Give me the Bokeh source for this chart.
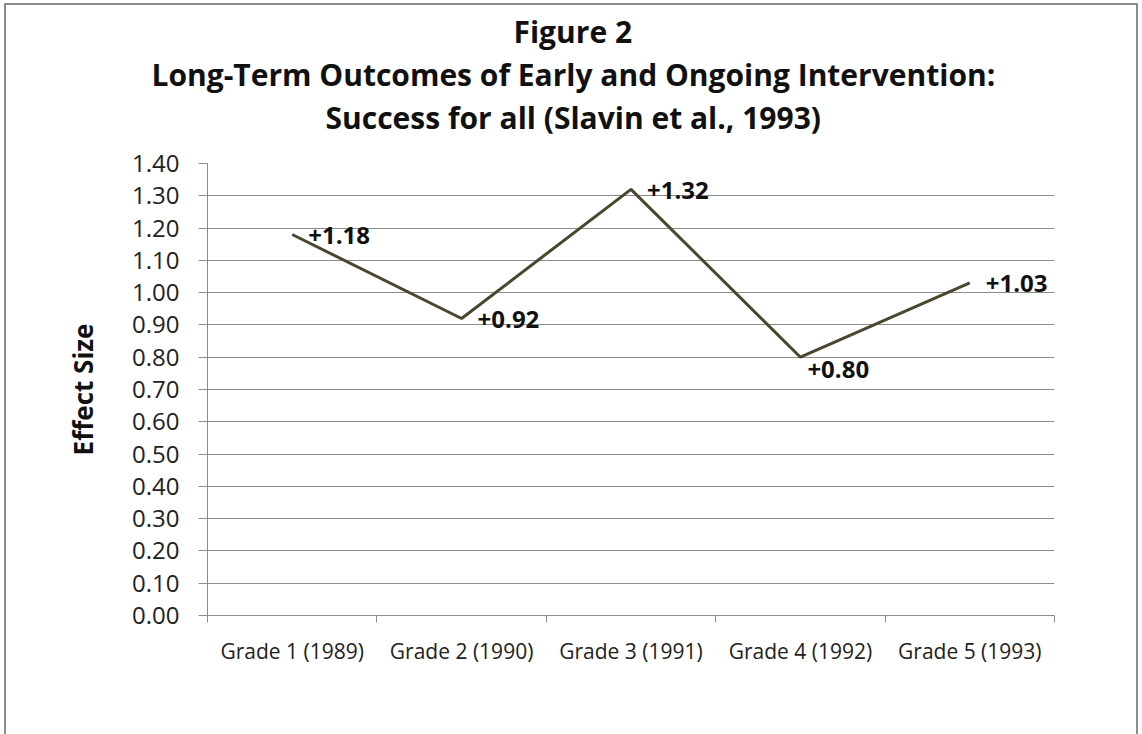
from bokeh.plotting import figure
from bokeh.models import (Range1d, FixedTicker, LinearAxis, NumeralTickFormatter, Grid,
                          ColumnDataSource, Title, InlineStyleSheet)
from bokeh.core.properties import value
from bokeh.embed import file_html
from bokeh.resources import INLINE

categories = ["Grade 1 (1989)", "Grade 2 (1990)", "Grade 3 (1991)", "Grade 4 (1992)", "Grade 5 (1993)"]
effect_size = [1.18, 0.92, 1.32, 0.80, 1.03]
y_ticks = [0.0, 0.1, 0.2, 0.3, 0.4, 0.5, 0.6, 0.7, 0.8, 0.9, 1.0, 1.1, 1.2, 1.3, 1.4]
title_lines = ["Figure 2",
               "Long-Term Outcomes of Early and Ongoing Intervention:",
               "Success for all (Slavin et al., 1993)"]
# style: where each data label sits relative to its point
label_side = ["right", "right", "right", "below", "right"]
# style: left offset of each title line (px from the frame's left edge) so lines centre at the page middle
title_offsets = [306, -56, 118]
title_standoffs = [0, 0, 0]

FONT = "Open Sans"
GRID = "#8c8c8c"
LINE = "#4b4630"
TEXT = "#111111"

W, H = 1142, 732
n = len(categories)
xs = [i + 0.5 for i in range(n)]
labels = ["+%.2f" % v for v in effect_size]

p = figure(width=W, height=H, output_backend="svg", toolbar_location=None,
           x_range=Range1d(0, n), y_range=Range1d(0, y_ticks[-1]),
           x_axis_type=None, y_axis_type=None,
           min_border_left=207, min_border_right=W - 1054,
           min_border_top=163, min_border_bottom=H - 615)
p.outline_line_color = None
p.background_fill_color = "white"
p.border_fill_color = "white"
p.stylesheets = [InlineStyleSheet(css="""
:host { position: relative; }
:host::after {
  content: ""; position: absolute; left: 4px; top: 3px; right: 4px; bottom: -2px;
  border: 2px solid #8c8c8c; border-bottom: none; pointer-events: none; z-index: 100;
}
""")]

# y axis
yax = LinearAxis(ticker=FixedTicker(ticks=y_ticks, minor_ticks=[]))
yax.formatter = NumeralTickFormatter(format="0.00")
yax.axis_line_color = GRID
yax.major_tick_line_color = GRID
yax.major_tick_out = 9
yax.major_tick_in = 0
yax.major_label_standoff = 19
yax.major_label_text_font = FONT
yax.major_label_text_font_size = "24px"
yax.major_label_text_color = "#222222"
yax.axis_label = "Effect Size"
yax.axis_label_text_font = FONT
yax.axis_label_text_font_size = "26px"
yax.axis_label_text_font_style = "bold"
yax.axis_label_text_color = TEXT
yax.axis_label_standoff = 28
p.add_layout(yax, "left")

# x axis: labels at category centres, tick marks at category boundaries
xax = LinearAxis(ticker=FixedTicker(ticks=xs, minor_ticks=list(range(n + 1))))
xax.major_label_overrides = {x: c for x, c in zip(xs, categories)}
xax.axis_line_color = GRID
xax.major_tick_line_color = None
xax.major_tick_out = 0
xax.major_tick_in = 0
xax.minor_tick_line_color = GRID
xax.minor_tick_out = 7
xax.minor_tick_in = 0
xax.major_label_standoff = 14
xax.major_label_text_font = FONT
xax.major_label_text_font_size = "21px"
xax.major_label_text_color = "#222222"
p.add_layout(xax, "below")

p.add_layout(Grid(dimension=1, ticker=FixedTicker(ticks=y_ticks), grid_line_color=GRID))

p.line(xs, effect_size, line_color=LINE, line_width=3)

src = ColumnDataSource(dict(
    x=xs, y=effect_size, t=labels,
    xo=[7 if s == "below" else 16 for s in label_side],
    yo=[12 if s == "below" else 1 for s in label_side],
))
p.text(x="x", y="y", text="t", source=src, x_offset="xo", y_offset="yo",
       text_font=value(FONT), text_font_style="bold", text_font_size="24px",
       text_align="left", text_baseline="middle", text_color=TEXT)

# spacer between the title block and the plot frame
p.add_layout(Title(text=" ", text_font=FONT, text_font_size="10px", standoff=10), "above")
for line, off, so in reversed(list(zip(title_lines, title_offsets, title_standoffs))):
    p.add_layout(Title(text=line, align="left", offset=off, standoff=so,
                       text_font=FONT, text_font_style="bold", text_font_size="30px",
                       text_color=TEXT), "above")

open("out.html", "w").write(file_html(p, INLINE))
